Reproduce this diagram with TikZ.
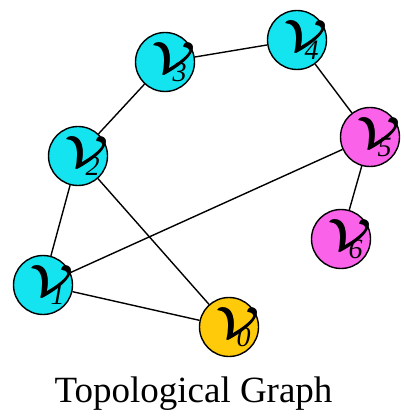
\documentclass[tikz,border=0pt]{standalone}
\usepackage{fontspec}
\setmainfont{Liberation Serif}
\definecolor{vcyan}{HTML}{14E3F0}
\definecolor{vpink}{HTML}{FA62EA}
\definecolor{vgold}{HTML}{FFCA0A}
\newcommand{\bigV}{\resizebox{43pt}{30pt}{$\mathcal{V}$}}
\newcommand{\vlab}[1]{\hspace*{8pt}\rlap{\bigV}\kern0.6pt\rlap{\raisebox{0.4pt}{\bigV}}\kern0.6pt\bigV\hspace{-23.2pt}\raisebox{-8pt}{\fontsize{28}{28}\selectfont\itshape #1}}
\begin{document}
\begin{tikzpicture}[x=1pt,y=-1pt,
  vert/.style={circle, draw=black, line width=1.4pt, minimum size=59pt, inner sep=0pt},
  link/.style={line width=1.4pt, black}]
\useasboundingbox (0,0) rectangle (403,419);
\node[vert, fill=vgold] (v0) at (229,327) {\vlab{0}};
\node[vert, fill=vcyan] (v1) at (43,285) {\vlab{1}};
\node[vert, fill=vcyan] (v2) at (78,156) {\vlab{2}};
\node[vert, fill=vcyan] (v3) at (165,62) {\vlab{3}};
\node[vert, fill=vcyan] (v4) at (297,40) {\vlab{4}};
\node[vert, fill=vpink] (v5) at (370,137) {\vlab{5}};
\node[vert, fill=vpink] (v6) at (341,239) {\vlab{6}};
\draw[link] (v3) -- (v4);
\draw[link] (v3) -- (v2);
\draw[link] (v4) -- (v5);
\draw[link] (v5) -- (v6);
\draw[link] (v2) -- (v1);
\draw[link] (v2) -- (v0);
\draw[link] (v1) -- (v5);
\draw[link] (v1) -- (v0);
\node[anchor=base, inner sep=0pt] (title) at (193.5,402) {\fontsize{37}{37}\selectfont Topological Graph};
\end{tikzpicture}
\end{document}
